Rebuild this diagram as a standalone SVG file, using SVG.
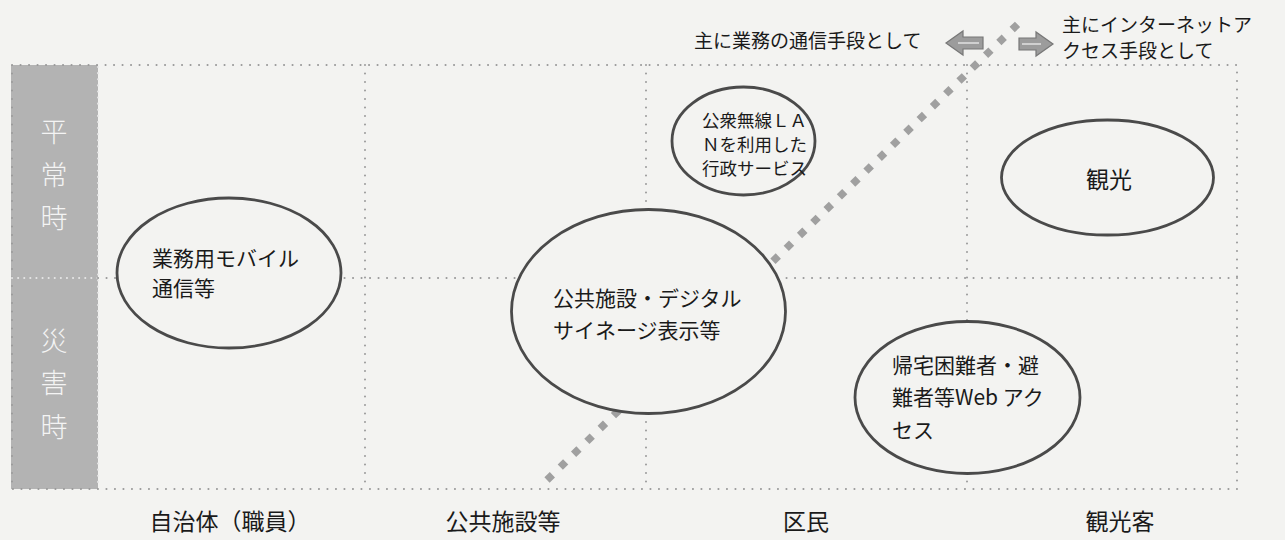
<svg xmlns="http://www.w3.org/2000/svg" width="1285" height="540" viewBox="0 0 1285 540">
<style>
.grid{fill:none;stroke:#9a9a9a;stroke-width:2;stroke-linecap:round;stroke-dasharray:0.1 8.4}
.gridw{fill:none;stroke:#e6e6e6;stroke-width:2;stroke-linecap:round;stroke-dasharray:0.1 6}
.ell{fill:#f3f3f1;stroke:#4a4a4a;stroke-width:2.8}
.t{font-family:"Noto Sans CJK JP","Noto Sans",sans-serif;fill:#1a1a1a}
.n{font-size:21px}
.s{font-size:17.5px}
.v{font-family:"Noto Sans CJK JP",sans-serif;font-size:27px;fill:#f4f4f4;text-anchor:middle;font-weight:300}
.lab{font-size:23px;text-anchor:middle}
.arr{fill:#9c9c9c;stroke:#777;stroke-width:1.2}
</style>
<rect width="1285" height="540" fill="#f3f3f1"/>
<g id="grid">
<rect x="11" y="65" width="87" height="424" fill="#b3b3b3"/>
<rect class="grid" x="12" y="65" width="1225" height="424"/>
<line class="gridw" x1="12" y1="278" x2="98" y2="278"/>
<line class="gridw" x1="98" y1="67" x2="98" y2="487"/>
<line class="grid" x1="98" y1="278" x2="1237" y2="278"/>
<line class="grid" x1="365" y1="65" x2="365" y2="489"/>
<line class="grid" x1="646" y1="65" x2="646" y2="489"/>
<line class="grid" x1="967" y1="65" x2="967" y2="489"/>
</g>
<g id="rowlabels">
<text class="v" x="54" y="142">平</text>
<text class="v" x="54" y="185">常</text>
<text class="v" x="54" y="228">時</text>
<text class="v" x="54" y="351">災</text>
<text class="v" x="54" y="393">害</text>
<text class="v" x="54" y="437">時</text>
</g>
<g id="connectors">
<line x1="547" y1="480" x2="1021" y2="21" stroke="#a0a0a0" stroke-width="7.5" stroke-dasharray="7.5 11"/>
<path class="arr" d="M946,43 L963,31 L963,37 L983,37 L983,49 L963,49 L963,55 Z"/>
<line x1="958" y1="43" x2="979" y2="43" stroke="#d0d0d0" stroke-width="2"/>
<path class="arr" d="M1053,44 L1036,32 L1036,38 L1019,38 L1019,50 L1036,50 L1036,56 Z"/>
<line x1="1022" y1="44" x2="1041" y2="44" stroke="#d0d0d0" stroke-width="2"/>
</g>
<g id="toplabels">
<text class="t" x="694" y="48" style="font-size:19px">主に業務の通信手段として</text>
<text class="t" x="1062" y="32" style="font-size:19px">主にインターネットア</text>
<text class="t" x="1062" y="58" style="font-size:19px">クセス手段として</text>
</g>
<g id="node-mobile">
<ellipse class="ell" cx="229" cy="273" rx="112" ry="75"/>
<text class="t n" x="152" y="266">業務用モバイル</text>
<text class="t n" x="152" y="296">通信等</text>
</g>
<g id="node-signage">
<ellipse class="ell" cx="648.5" cy="311.5" rx="137" ry="102"/>
<text class="t n" x="553" y="306">公共施設・デジタル</text>
<text class="t n" x="553" y="338">サイネージ表示等</text>
</g>
<g id="node-wlan">
<ellipse class="ell" cx="743.5" cy="141" rx="71.5" ry="54"/>
<text class="t s" x="702" y="127">公衆無線ＬＡ</text>
<text class="t s" x="702" y="151">Ｎを利用した</text>
<text class="t s" x="702" y="175">行政サービス</text>
</g>
<g id="node-kanko">
<ellipse class="ell" cx="1107.5" cy="177.5" rx="106" ry="57.5"/>
<text class="t" x="1109" y="188" style="font-size:23px;text-anchor:middle">観光</text>
</g>
<g id="node-kitaku">
<ellipse class="ell" cx="967.5" cy="397.5" rx="112.5" ry="76"/>
<text class="t n" x="892" y="373">帰宅困難者・避</text>
<text class="t n" x="892" y="405">難者等Web アク</text>
<text class="t n" x="892" y="438">セス</text>
</g>
<g id="collabels">
<text class="t lab" x="230" y="530">自治体（職員）</text>
<text class="t lab" x="503" y="530">公共施設等</text>
<text class="t lab" x="806" y="530">区民</text>
<text class="t lab" x="1120" y="530">観光客</text>
</g>
</svg>
